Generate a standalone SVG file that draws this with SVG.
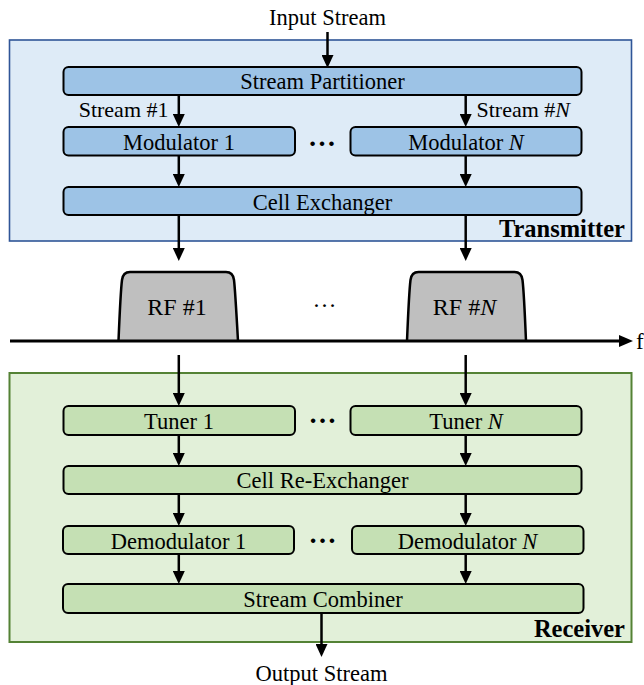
<svg xmlns="http://www.w3.org/2000/svg" width="644" height="685" viewBox="0 0 644 685">
<defs>
<marker id="ah" viewBox="0 0 13 12" refX="6" refY="6" markerWidth="13" markerHeight="12" markerUnits="userSpaceOnUse" orient="auto">
<path d="M0,0 L13,6 L0,12 Z" fill="#000"/>
</marker>
<marker id="axh" viewBox="0 0 14 12" refX="7" refY="6" markerWidth="14" markerHeight="12" markerUnits="userSpaceOnUse" orient="auto">
<path d="M0,0 L14,6 L0,12 Z" fill="#000"/>
</marker>
</defs>
<style>
text{font-family:"Liberation Serif","Times New Roman",serif;fill:#000;}
.t{font-size:22.5px;text-anchor:middle;}
.s{font-size:22px;}
.lbl{font-size:24.5px;font-weight:bold;text-anchor:end;}
.dots{font-size:28px;font-weight:bold;text-anchor:middle;}
.rf{font-size:24px;text-anchor:middle;}
.bb{fill:#9DC3E6;stroke:#000;stroke-width:2;}
.gb{fill:#C5E0B4;stroke:#000;stroke-width:2;}
.c{stroke:#000;stroke-width:2.5;fill:none;marker-end:url(#ah);}
.rfs{fill:#BFBFBF;stroke:#000;stroke-width:2.5;}
</style>
<rect width="644" height="685" fill="#fff"/>

<g id="transmitter">
<rect x="9.5" y="40" width="622" height="201" fill="#DEEBF7" stroke="#2F5597" stroke-width="1.6"/>
<text class="lbl" x="625" y="237">Transmitter</text>
</g>
<g id="receiver">
<rect x="9.5" y="373" width="622" height="269" fill="#E2F0D9" stroke="#548235" stroke-width="2"/>
<text class="lbl" x="625" y="637">Receiver</text>
</g>

<g id="input-stream"><text class="t" x="327.5" y="25">Input Stream</text></g>
<g id="output-stream"><text class="t" x="321.5" y="681">Output Stream</text></g>

<g id="stream-partitioner">
<rect class="bb" x="63.5" y="67" width="518" height="28" rx="5"/>
<text class="t" x="322.5" y="89">Stream Partitioner</text>
</g>
<g id="modulator-1">
<rect class="bb" x="63.5" y="127" width="231.5" height="28.5" rx="5"/>
<text class="t" x="179" y="150">Modulator 1</text>
</g>
<g id="modulator-n">
<rect class="bb" x="350.5" y="127" width="231" height="28.5" rx="5"/>
<text class="t" x="466" y="150">Modulator <tspan font-style="italic">N</tspan></text>
</g>
<g id="cell-exchanger">
<rect class="bb" x="63.5" y="187" width="518" height="28" rx="5"/>
<text class="t" x="322.5" y="209.5">Cell Exchanger</text>
</g>
<text class="dots" x="322" y="146">…</text>

<g id="rf-1">
<path class="rfs" d="M118.5,341 C120,305 121,288 122,280 Q123,272 130,272 L226,272 Q233,272 234,280 C235,288 236,305 238,341"/>
<text class="rf" x="177" y="315">RF #1</text>
</g>
<g id="rf-n">
<path class="rfs" d="M407,341 C408.5,305 409.5,288 410.5,280 Q411.5,272 418.5,272 L514.5,272 Q521.5,272 522.5,280 C523.5,288 524.5,305 526,341"/>
<text class="rf" x="464.5" y="315">RF #<tspan font-style="italic">N</tspan></text>
</g>
<text class="rf" x="324.5" y="307">…</text>

<g id="tuner-1">
<rect class="gb" x="63.5" y="406" width="231.5" height="29" rx="5"/>
<text class="t" x="179" y="429">Tuner 1</text>
</g>
<g id="tuner-n">
<rect class="gb" x="350.5" y="406" width="231" height="29" rx="5"/>
<text class="t" x="466" y="429">Tuner <tspan font-style="italic">N</tspan></text>
</g>
<text class="dots" x="322.5" y="423">…</text>
<g id="cell-re-exchanger">
<rect class="gb" x="63.5" y="466" width="518" height="28" rx="5"/>
<text class="t" x="322.5" y="488">Cell Re-Exchanger</text>
</g>
<g id="demodulator-1">
<rect class="gb" x="63" y="526" width="231" height="28" rx="5"/>
<text class="t" x="178.5" y="549">Demodulator 1</text>
</g>
<g id="demodulator-n">
<rect class="gb" x="352" y="526" width="231.5" height="28" rx="5"/>
<text class="t" x="467.5" y="549">Demodulator <tspan font-style="italic">N</tspan></text>
</g>
<text class="dots" x="322.5" y="543">…</text>
<g id="stream-combiner">
<rect class="gb" x="63" y="584" width="520.5" height="29" rx="5"/>
<text class="t" x="323" y="607">Stream Combiner</text>
</g>

<g id="connectors">
<line class="c" x1="327.5" y1="32" x2="327.5" y2="61"/>
<line class="c" x1="178.8" y1="95" x2="178.8" y2="120"/>
<line class="c" x1="465.7" y1="95" x2="465.7" y2="120"/>
<text class="s" x="168.5" y="117" text-anchor="end">Stream #1</text>
<text class="s" x="476.5" y="117">Stream #<tspan font-style="italic">N</tspan></text>
<line class="c" x1="178.8" y1="156" x2="178.8" y2="180"/>
<line class="c" x1="465.7" y1="156" x2="465.7" y2="180"/>
<line class="c" x1="178.8" y1="215" x2="178.8" y2="254"/>
<line class="c" x1="465.7" y1="215" x2="465.7" y2="254"/>
<line x1="10" y1="341" x2="626" y2="341" stroke="#000" stroke-width="3" marker-end="url(#axh)"/>
<text x="636" y="349" font-size="23">f</text>
<line class="c" x1="178.8" y1="355" x2="178.8" y2="399"/>
<line class="c" x1="465.7" y1="355" x2="465.7" y2="399"/>
<line class="c" x1="178.8" y1="435" x2="178.8" y2="459"/>
<line class="c" x1="465.7" y1="435" x2="465.7" y2="459"/>
<line class="c" x1="178.8" y1="494" x2="178.8" y2="519"/>
<line class="c" x1="465.7" y1="494" x2="465.7" y2="519"/>
<line class="c" x1="178.8" y1="554" x2="178.8" y2="577"/>
<line class="c" x1="465.7" y1="554" x2="465.7" y2="577"/>
<line class="c" x1="321.5" y1="613" x2="321.5" y2="650"/>
</g>
</svg>
